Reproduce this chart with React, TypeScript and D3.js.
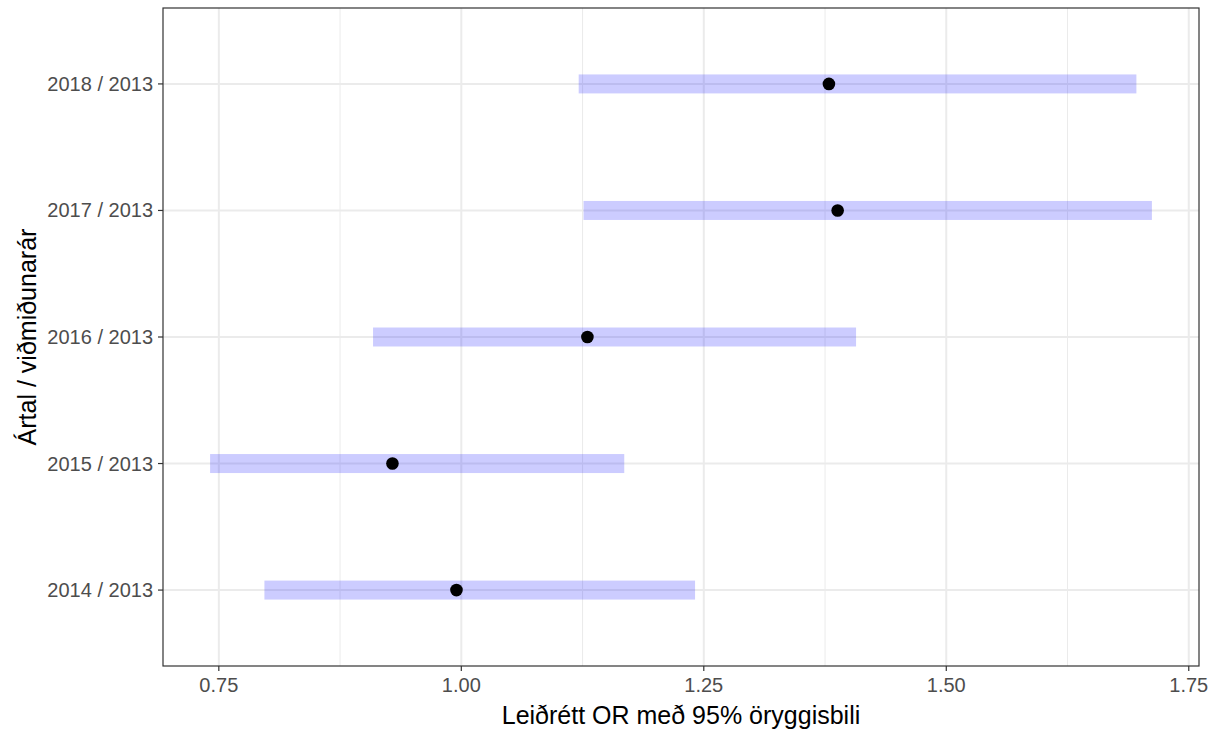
import React from 'react';
import * as d3 from 'd3';

const years = ['2014 / 2013', '2015 / 2013', '2016 / 2013', '2017 / 2013', '2018 / 2013'];
const estimate = [0.995, 0.929, 1.130, 1.388, 1.379];
const lower = [0.797, 0.741, 0.909, 1.126, 1.121];
const upper = [1.241, 1.168, 1.407, 1.712, 1.696];
const xTicks = [0.75, 1.0, 1.25, 1.5, 1.75];
const xMinor = [0.875, 1.125, 1.375, 1.625];

const width = 1217;
const height = 729;
const margin = { top: 8, right: 18, bottom: 63, left: 163 };

export default function App() {
	const lo = d3.min(lower) as number;
	const hi = d3.max(upper) as number;
	const pad = (hi - lo) * 0.05;

	const x = d3.scaleLinear()
		.domain([lo - pad, hi + pad])
		.range([margin.left, width - margin.right]);

	// discrete scale with ggplot-like 0.6 expansion
	const y = d3.scaleLinear()
		.domain([0.4, years.length + 0.6])
		.range([height - margin.bottom, margin.top]);

	const panelW = width - margin.left - margin.right;
	const panelH = height - margin.top - margin.bottom;
	const font = 'Liberation Sans, Arial, sans-serif';

	return (
		<svg width={width} height={height} style={{ position: 'absolute', left: 0, top: 0 }}>
			<rect x={0} y={0} width={width} height={height} fill="white" />
			<g>
				{xMinor.map(t => (
					<line key={'m' + t} x1={x(t)} x2={x(t)} y1={margin.top} y2={height - margin.bottom}
						stroke="#ebebeb" strokeWidth={1} />
				))}
				{xTicks.map(t => (
					<line key={'M' + t} x1={x(t)} x2={x(t)} y1={margin.top} y2={height - margin.bottom}
						stroke="#ebebeb" strokeWidth={2} />
				))}
				{years.map((d, i) => (
					<line key={d} x1={margin.left} x2={width - margin.right} y1={y(i + 1)} y2={y(i + 1)}
						stroke="#ebebeb" strokeWidth={2} />
				))}
			</g>
			<g>
				{years.map((d, i) => (
					<rect key={d} x={x(lower[i])} y={y(i + 1) - 9.5} width={x(upper[i]) - x(lower[i])} height={19}
						fill="#0000ff" fillOpacity={0.2} />
				))}
				{years.map((d, i) => (
					<circle key={d} cx={x(estimate[i])} cy={y(i + 1)} r={6.3} fill="black" />
				))}
			</g>
			<rect x={margin.left} y={margin.top} width={panelW} height={panelH}
				fill="none" stroke="#333333" strokeWidth={1.2} />
			<g fontFamily={font}>
				{xTicks.map(t => (
					<g key={t}>
						<line x1={x(t)} x2={x(t)} y1={height - margin.bottom} y2={height - margin.bottom + 5}
							stroke="#333333" strokeWidth={1.2} />
						<text x={x(t)} y={height - margin.bottom + 26} textAnchor="middle" fontSize={20} fill="#4d4d4d">
							{d3.format('.2f')(t)}
						</text>
					</g>
				))}
				{years.map((d, i) => (
					<g key={d}>
						<line x1={margin.left - 5} x2={margin.left} y1={y(i + 1)} y2={y(i + 1)}
							stroke="#333333" strokeWidth={1.2} />
						<text x={margin.left - 10} y={y(i + 1)} dy="0.35em" textAnchor="end" fontSize={20} fill="#4d4d4d">
							{d}
						</text>
					</g>
				))}
				<text x={margin.left + panelW / 2} y={height - 5} textAnchor="middle" fontSize={25} fill="black">
					Leiðrétt OR með 95% öryggisbili
				</text>
				<text transform={`translate(36,${margin.top + panelH / 2}) rotate(-90)`} textAnchor="middle"
					fontSize={25} fill="black">
					Ártal / viðmiðunarár
				</text>
			</g>
		</svg>
	);
}
